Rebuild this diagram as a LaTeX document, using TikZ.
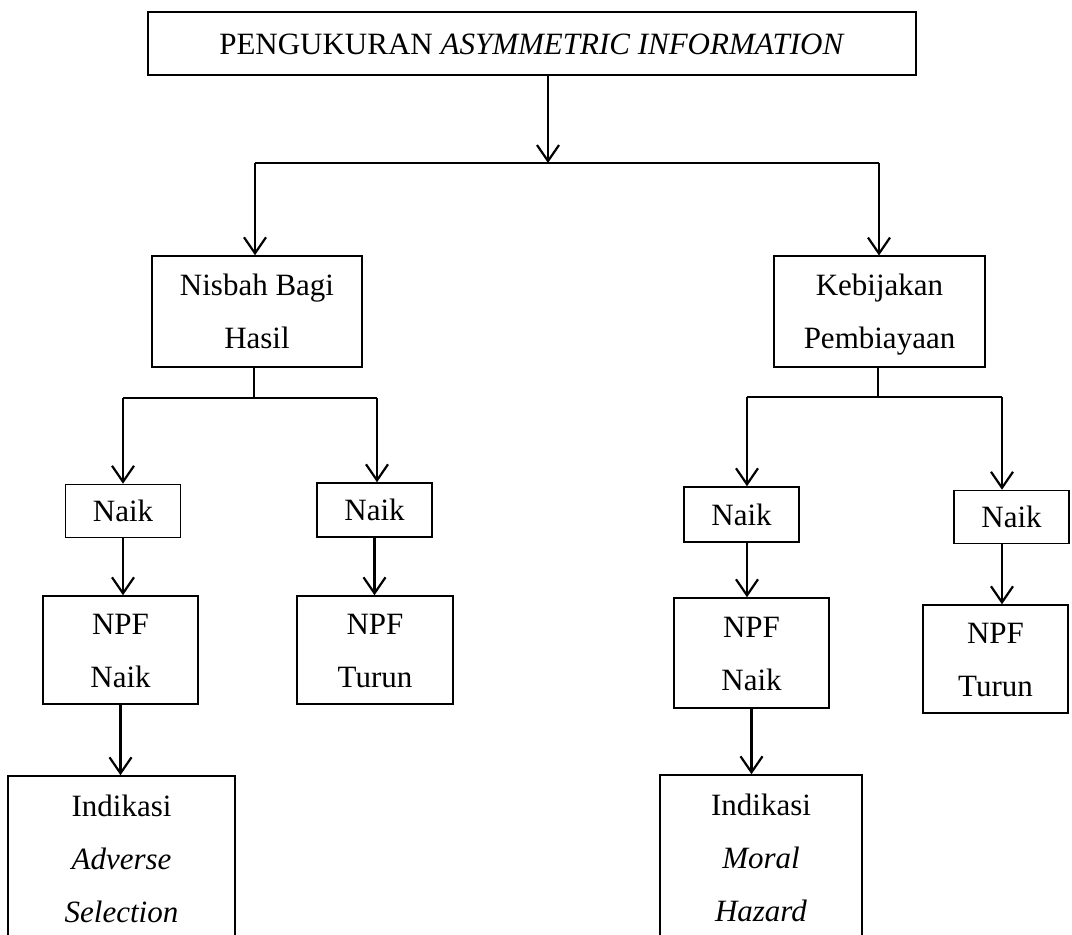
\documentclass[tikz,border=0pt]{standalone}
\usepackage{fontspec}
\setmainfont{Liberation Serif}
\usetikzlibrary{
    arrows.meta
    }

\begin{document}
\begin{tikzpicture}[x=0.5pt, y=-0.5pt]
\tikzset{box/.style =
        {
            rectangle,
            draw,
            line width=0.75pt,
            inner sep=0pt,
            align=center,
            font=\fontsize{15.5}{26.5}\selectfont
        }
}

\tikzset{link/.style = { line width=1.1pt } }

\tikzset{flow/.style = {
            link,
            -{Straight Barb[length=8pt, width=11pt]}
        }
}

		\useasboundingbox (0,0) rectangle (1072,935);

		\node[box, minimum width=384pt, minimum height=31.5pt] at (532,43.5) (ukur) {\strut PENGUKURAN \textit{ASYMMETRIC INFORMATION}};

		\node[box, minimum width=105pt, minimum height=55.5pt] at (257,311.5) (nisbah) {\strut Nisbah Bagi\\\strut Hasil};
		\node[box, minimum width=105.5pt, minimum height=55.5pt] at (879.5,311.75) (kebijakan) {\strut Kebijakan\\\strut Pembiayaan};

		\foreach \name / \x / \y / \h in
			{naik1/123/511/26,
				naik2/374.5/510/27,
				naik3/741.5/514.5/27.5,
				naik4/1011.5/517/25}
		\node[box, minimum width=57.5pt, minimum height=\h pt] at (\x,\y) (\name) {\strut Naik};

		\node[box, minimum width=77.5pt, minimum height=54pt] at (120.5,650) (npf1) {\strut NPF\\\strut Naik};
		\node[box, minimum width=78pt, minimum height=54pt] at (375,650) (npf2) {\strut NPF\\\strut Turun};
		\node[box, minimum width=77.5pt, minimum height=55pt] at (751.5,653) (npf3) {\strut NPF\\\strut Naik};
		\node[box, minimum width=72.5pt, minimum height=54pt] at (995.5,659) (npf4) {\strut NPF\\\strut Turun};

		\node[box, minimum width=113.5pt, minimum height=82.5pt] at (121.5,858.5) (ind1) {\strut Indikasi\\\textit{Adverse}\\\strut\textit{Selection}};
		\node[box, minimum width=101pt, minimum height=83pt] at (761,858) (ind2) {\strut Indikasi\\\textit{Moral}\\\strut\textit{Hazard}};

		% branch points
		\coordinate (j0) at (548,163);
		\coordinate (bl) at (255,163);
		\coordinate (br) at (879,163);
		\coordinate (sl) at (254,398);
		\coordinate (al) at (123,398);
		\coordinate (ar) at (377,398);
		\coordinate (sr) at (878,397);
		\coordinate (cl) at (747,397);
		\coordinate (cr) at (1002,397);

		\draw[flow] (ukur.south -| j0) -- (j0);
		\draw[link] (bl) -- (br);
		\draw[flow] (bl) -- (nisbah.north -| bl);
		\draw[flow] (br) -- (kebijakan.north -| br);

		\draw[link] (nisbah.south -| sl) -- (sl);
		\draw[link] (al) -- (ar);
		\draw[link] (kebijakan.south -| sr) -- (sr);
		\draw[link] (cl) -- (cr);

		\foreach \start / \finish in
			{al/naik1,
				ar/naik2,
				cl/naik3,
				cr/naik4}
			{
				\draw [flow] (\start) -- (\finish.north -| \start);
			}

		\foreach \start / \finish / \via in
			{naik1/npf1/al,
				naik2/npf2/naik2,
				naik3/npf3/cl,
				naik4/npf4/cr,
				npf1/ind1/npf1,
				npf3/ind2/npf3}
			{
				\draw [flow] (\start.south -| \via) -- (\finish.north -| \via);
			}

	\end{tikzpicture}
\end{document}
